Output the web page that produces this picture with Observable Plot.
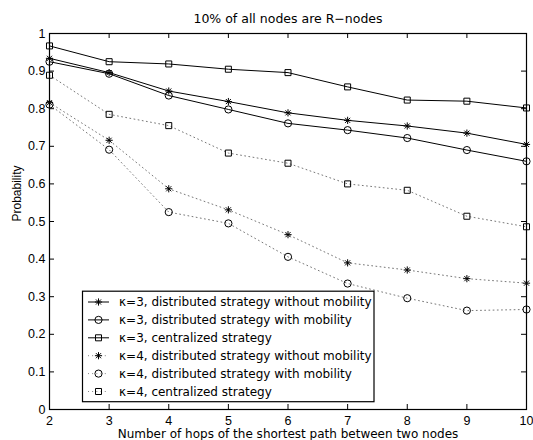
<!DOCTYPE html>
<html>
<head>
<meta charset="utf-8">
<script src="https://cdn.jsdelivr.net/npm/d3@7"></script>
<script src="https://cdn.jsdelivr.net/npm/@observablehq/plot@0.6"></script>
<style>
  html, body { margin: 0; padding: 0; background: #fff; }
  #chart { width: 533px; height: 440px; position: relative; }
</style>
</head>
<body>
<div id="chart"></div>
<script>
// ---- data ----
const hops = [2, 3, 4, 5, 6, 7, 8, 9, 10];
const k3NoMobility = [0.934, 0.896, 0.847, 0.819, 0.789, 0.769, 0.754, 0.735, 0.705];
const k3Mobility   = [0.925, 0.893, 0.835, 0.798, 0.761, 0.743, 0.722, 0.690, 0.660];
const k3Central    = [0.967, 0.925, 0.919, 0.905, 0.896, 0.858, 0.823, 0.820, 0.802];
const k4NoMobility = [0.816, 0.716, 0.587, 0.531, 0.465, 0.390, 0.371, 0.348, 0.336];
const k4Mobility   = [0.811, 0.691, 0.525, 0.495, 0.406, 0.335, 0.296, 0.263, 0.266];
const k4Central    = [0.889, 0.785, 0.755, 0.682, 0.655, 0.600, 0.583, 0.514, 0.486];
const seriesNames = [
  "κ=3, distributed strategy without mobility",
  "κ=3, distributed strategy with mobility",
  "κ=3, centralized strategy",
  "κ=4, distributed strategy without mobility",
  "κ=4, distributed strategy with mobility",
  "κ=4, centralized strategy"
];
const xTicks = [2, 3, 4, 5, 6, 7, 8, 9, 10];
const yTicks = [0, 0.1, 0.2, 0.3, 0.4, 0.5, 0.6, 0.7, 0.8, 0.9, 1];
const yTickLabels = ["0", "0.1", "0.2", "0.3", "0.4", "0.5", "0.6", "0.7", "0.8", "0.9", "1"];
const titleText = "10% of all nodes are R\u2212nodes";
const xLabel = "Number of hops of the shortest path between two nodes";
const yLabel = "Probability";

// ---- symbols ----
const asterisk = {
  draw(ctx, size) {
    const r = Math.sqrt(size / Math.PI);
    const d = r * Math.SQRT1_2;
    ctx.moveTo(-r, 0); ctx.lineTo(r, 0);
    ctx.moveTo(0, -r); ctx.lineTo(0, r);
    ctx.moveTo(-d, -d); ctx.lineTo(d, d);
    ctx.moveTo(-d, d); ctx.lineTo(d, -d);
  }
};
const seriesValues = [k3NoMobility, k3Mobility, k3Central, k4NoMobility, k4Mobility, k4Central];
const seriesSymbols = [asterisk, "circle", "square", asterisk, "circle", "square"];
const seriesR = [3.6, 3.6, 3.4, 3.6, 3.6, 3.4];
const seriesDotted = [false, false, false, true, true, true];

const rows = [];
seriesValues.forEach((vals, s) => vals.forEach((v, i) => rows.push({series: s, hop: hops[i], p: v})));

const W = 533, H = 440, mL = 49, mR = 7, mT = 33, mB = 31;
const innerW = W - mL - mR, innerH = H - mT - mB;
const tickLen = 5;
const dotStroke = "#777", dotDash = "0.9,3.3";

const lineMarks = [];
[3, 4, 5, 0, 1, 2].forEach(s => {
  const d = rows.filter(r => r.series === s);
  lineMarks.push(Plot.line(d, {
    x: "hop", y: "p",
    stroke: seriesDotted[s] ? dotStroke : "black",
    strokeWidth: 1,
    strokeDasharray: seriesDotted[s] ? dotDash : null
  }));
});
const dotMarks = [];
[3, 4, 5, 0, 1, 2].forEach(s => {
  const d = rows.filter(r => r.series === s);
  dotMarks.push(Plot.dot(d, {
    x: "hop", y: "p", symbol: () => seriesSymbols[s], r: seriesR[s],
    fill: "none", stroke: "black", strokeWidth: 1
  }));
});

const plot = Plot.plot({
  width: W, height: H,
  marginLeft: mL, marginRight: mR, marginTop: mT, marginBottom: mB,
  style: {background: "white", fontFamily: "'Liberation Sans', Arial, sans-serif", fontSize: "12.5px", color: "black"},
  x: {domain: [2, 10]},
  y: {domain: [0, 1]},
  symbol: {type: "identity"},
  marks: [
    ...lineMarks,
    ...dotMarks,
    Plot.ruleX(xTicks, {x: d => d, insetTop: innerH - tickLen, stroke: "black"}),
    Plot.ruleX(xTicks, {x: d => d, insetBottom: innerH - tickLen, stroke: "black"}),
    Plot.ruleY(yTicks, {y: d => d, insetRight: innerW - tickLen, stroke: "black"}),
    Plot.ruleY(yTicks, {y: d => d, insetLeft: innerW - tickLen, stroke: "black"}),
    Plot.axisX({ticks: xTicks, tickSize: 0, tickPadding: 7, label: null, tickFormat: d => String(d), fontSize: 12.5}),
    Plot.axisY({ticks: yTicks, tickSize: 0, tickPadding: 4, label: null, tickFormat: (d, i) => yTickLabels[i], fontSize: 12.5}),
    Plot.frame({stroke: "black", strokeWidth: 1.2}),
    Plot.text([titleText], {text: d => d, frameAnchor: "top", dy: -15, lineAnchor: "middle",
      fontFamily: "'DejaVu Sans', sans-serif", fontSize: 12.5}),
    Plot.text([xLabel], {text: d => d, frameAnchor: "bottom", dy: 25, lineAnchor: "middle",
      fontFamily: "'DejaVu Sans', sans-serif", fontSize: 12}),
    Plot.text([yLabel], {text: d => d, frameAnchor: "left", dx: -32, rotate: -90, lineAnchor: "middle",
      fontFamily: "'Liberation Sans', Arial, sans-serif", fontSize: 12})
  ]
});
document.getElementById("chart").appendChild(plot);

// ---- legend (inside the plot, lower-left) ----
const svg = d3.select(plot);
const lg = svg.append("g").attr("class", "legend").attr("text-anchor", "start");
const box = {x: 82.5, y: 291.2, w: 291.5, h: 110.5};
lg.append("rect").attr("x", box.x).attr("y", box.y).attr("width", box.w).attr("height", box.h)
  .attr("fill", "white").attr("stroke", "black").attr("stroke-width", 1.2);
seriesNames.forEach((name, s) => {
  const cy = 302 + s * 17.9;
  const g = lg.append("g");
  g.append("line").attr("x1", 88).attr("x2", 109).attr("y1", cy).attr("y2", cy)
    .attr("stroke", seriesDotted[s] ? dotStroke : "black").attr("stroke-width", 1)
    .attr("stroke-dasharray", seriesDotted[s] ? dotDash : null);
  const sym = typeof seriesSymbols[s] === "string"
    ? (seriesSymbols[s] === "circle" ? d3.symbolCircle : d3.symbolSquare)
    : seriesSymbols[s];
  g.append("path").attr("transform", `translate(98.5,${cy})`)
    .attr("d", d3.symbol(sym, Math.PI * seriesR[s] * seriesR[s])())
    .attr("fill", "none").attr("stroke", "black").attr("stroke-width", 1);
  g.append("text").attr("x", 119).attr("y", cy).attr("dy", "0.35em")
    .attr("text-anchor", "start")
    .attr("font-family", "'DejaVu Sans', sans-serif").attr("font-size", 12)
    .attr("fill", "black").text(name);
});
</script>
</body>
</html>
